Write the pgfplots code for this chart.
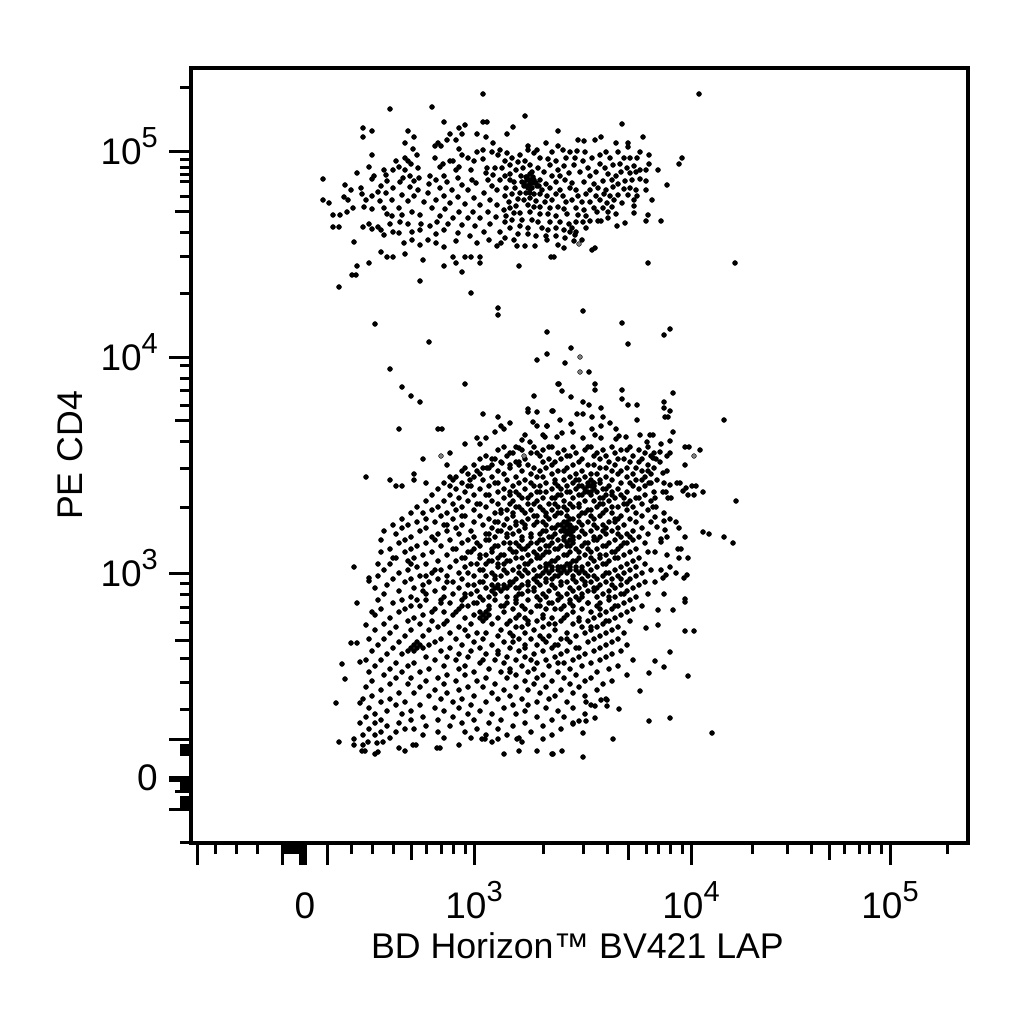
\documentclass[border=0pt]{standalone}
\usepackage{pgfplots}
\pgfplotsset{compat=1.18}
\usepackage{fontspec}
\setmainfont{Liberation Sans}
\newcommand\tp[1]{10\raisebox{17pt}{\fontsize{29}{29}\selectfont #1}}
\begin{document}
\begin{tikzpicture}[x=1pt,y=1pt]
\path[use as bounding box] (0,0) rectangle (1024,1024);
\begin{axis}[
 at={(191pt,181pt)},anchor=south west,scale only axis,width=777pt,height=775pt,
 xmin=191,xmax=968,ymin=68,ymax=843,y dir=reverse,
 axis line style={line width=3.4pt},
 tick align=outside,xtick pos=bottom,ytick pos=left,
 tick style={black,line width=3pt},
 major tick length=22pt,minor tick length=11pt,
 xtick={197,282,300,303,305,327,474,691,890},
 xticklabels={,,,,0,,\tp{3},\tp{4},\tp{5}},
 extra x ticks={411,628,829},extra x tick labels={},
 extra x tick style={major tick length=17pt},
 minor xtick={215,236,257,285,288,291,294,297,351,372,393,426,441,453,465,543,583,607,646,658,670,682,752,787,811,844,859,869,881,947},
 ytick={152,357,573,739,777,780,809},
 yticklabels={\tp{5},\tp{4},\tp{3},,0,,},
 extra y ticks={212,420,640,791},extra y tick labels={},
 extra y tick style={major tick length=16pt},
 minor ytick={88,160,168,175,182,197,233,257,294,365,378,390,405,441,468,507,583,594,607,622,658,682,709,745,748,751,754,783,786,789,797,800,803,806,842},
 tick label style={font=\fontsize{37}{37}\selectfont,inner sep=0pt},
 xticklabel style={anchor=base,yshift=-53pt},
 yticklabel style={anchor=base east,yshift=-13pt,xshift=-11pt},
 xlabel={BD Horizon™ BV421 LAP},ylabel={PE CD4},
 label style={font=\fontsize{35.7}{36}\selectfont,inner sep=0pt},
 xlabel style={at={(axis description cs:0.4974,-0.1484)},anchor=base},
 ylabel style={at={(axis description cs:-0.140,0.5)},anchor=base},
]
% dots (display channels)
\addplot[only marks,mark=*,mark size=2.5pt,mark options={draw=none,fill=black}] coordinates {
(483,94)(699,94)(390,109)(432,107)(735,263)(339,287)(444,122)(465,125)(459,128)(483,122)(487,122)(363,128)(372,131)(363,137)(408,131)(414,137)(450,134)(462,134)(477,134)(486,137)(507,134)(405,143)(447,140)(456,140)(435,146)(438,143)(441,146)(493,143)(459,149)(413,149)(417,155)(372,155)(435,158)(462,155)(477,152)(483,150)(492,152)(500,150)(498,155)(507,153)
(396,161)(405,158)(408,161)(411,164)(450,161)(453,161)(443,164)(440,167)(468,158)(474,161)(483,159)(505,161)(369,167)(393,170)(399,167)(405,170)(418,168)(459,167)(456,170)(471,170)(487,168)(486,173)(495,168)(493,175)(510,165)(357,173)(384,170)(386,175)(374,176)(403,178)(410,176)(414,181)(419,178)(430,176)(444,176)(458,178)(472,180)(488,180)(500,180)(505,176)
(323,179)(372,179)(387,181)(400,182)(410,187)(429,184)(436,180)(447,182)(462,185)(476,183)(492,186)(510,180)(381,186)(345,185)(351,190)(361,188)(378,192)(393,188)(418,190)(440,188)(452,190)(468,190)(484,193)(497,190)(362,194)(372,196)(386,193)(402,195)(414,196)(428,193)(444,196)(458,197)(474,198)(490,200)(505,196)(323,200)(329,203)(344,197)(348,200)(366,200)(380,201)(392,200)(408,201)(424,202)(436,200)(450,203)(465,204)(480,205)(497,205)
(333,215)(340,215)(347,212)(353,208)(364,207)(372,209)(384,208)(399,208)(412,212)(432,208)(445,209)(459,212)(473,212)(488,212)(504,210)(387,214)(392,216)(402,215)(420,215)(440,216)(453,218)(468,218)(480,218)(496,217)(333,227)(339,227)(363,227)(369,224)(372,229)(378,227)(381,230)(390,224)(400,222)(408,224)(421,224)(430,226)(437,222)(448,224)(462,225)(475,226)(490,224)(505,222)(384,235)(393,232)(399,233)(412,232)(420,230)(436,234)(444,230)(458,233)(470,236)(484,232)(500,232)(354,242)(381,252)(387,257)(393,257)(405,254)(420,245)(423,260)(444,247)(444,266)(453,257)(456,263)(465,257)(471,257)(480,257)(480,263)(462,272)(420,281)(471,293)(352,275)(356,275)(357,266)(369,263)(497,246)(505,238)(489,240)(477,243)(412,240)(404,243)(428,240)(436,243)(456,241)
(525,116)(513,127)(558,131)(622,124)(578,140)(595,140)(601,137)(584,141)(546,143)(558,146)(616,143)(628,143)(628,147)(643,137)(528,146)(528,150)(537,150)(552,152)(534,153)(563,150)(570,152)(577,151)(585,152)(640,152)(649,155)(682,158)(679,164)(630,158)(637,158)(649,164)(658,170)(667,185)(640,170)(646,170)(630,173)(640,179)(646,181)(652,200)(646,190)(634,206)(634,200)(634,213)(648,215)(646,221)(661,221)(617,226)(625,223)(598,221)(601,221)(590,221)(608,212)(597,212)(592,250)(595,248)(648,263)(519,266)(551,257)(554,257)(558,245)(564,248)(547,240)(535,246)(525,246)(517,246)(501,243)(575,235)(570,232)(576,232)(569,224)
(512,158)(520,155)(518,162)(525,161)(540,158)(548,159)(556,161)(566,158)(575,158)(583,161)(592,158)(600,155)(606,152)(610,158)(618,152)(624,158)(502,168)(516,170)(523,168)(530,165)(538,168)(550,165)(558,170)(564,166)(574,165)(588,168)(600,164)(605,168)(613,165)(620,164)(627,168)(634,166)(510,174)(521,176)(526,177)(532,172)(544,172)(552,176)(560,176)(569,173)(580,172)(590,176)(596,172)(608,174)(616,176)(621,172)(636,172)(514,182)(522,182)(527,180)(530,184)(534,180)(540,180)(546,184)(556,182)(565,180)(572,183)(584,182)(594,184)(603,181)(612,180)(618,184)(625,181)(632,180)(506,188)(515,188)(524,186)(528,188)(532,188)(537,186)(542,190)(550,188)(560,190)(570,188)(576,190)(590,190)(598,188)(606,190)(613,187)(624,189)(630,188)(636,190)
(512,194)(520,193)(526,193)(530,193)(534,194)(540,194)(547,196)(556,194)(563,196)(578,196)(586,194)(596,196)(604,194)(610,196)(618,195)(628,195)(637,196)(509,202)(518,199)(524,200)(530,198)(536,201)(545,202)(552,200)(566,202)(572,200)(582,202)(590,202)(600,200)(607,203)(614,200)(622,203)(510,208)(516,206)(528,205)(534,207)(540,207)(550,208)(558,207)(564,209)(576,208)(584,210)(594,208)(603,208)(612,207)(506,216)(514,213)(520,213)(530,212)(540,214)(548,214)(556,216)(567,214)(578,215)(586,216)(608,218)(616,214)(512,220)(522,220)(532,220)(538,222)(550,222)(560,222)(576,222)(583,222)(510,228)(520,226)(528,228)(542,228)(548,230)(556,228)(564,230)(572,228)(586,228)(518,234)(528,234)(536,236)(546,236)(556,236)(565,238)(574,241)(582,240)(514,240)
(530,180)(533,183)(527,186)(530,189)(527,177)(533,177)(536,183)(524,183)(530,174)(539,186)
(498,308)(498,315)(375,324)(429,342)(547,332)(547,354)(537,360)(390,369)(558,384)(402,387)(411,396)(420,402)(465,384)(534,396)(528,409)(528,412)(537,412)(553,411)(483,414)(498,417)(533,422)(510,423)(501,426)(504,429)(495,432)(537,426)(547,426)(543,435)(399,429)(438,429)(442,429)(477,438)(486,438)(465,444)(480,444)(525,435)(530,442)(522,440)(519,448)(450,453)(423,459)(447,465)(465,468)(477,471)(492,459)(510,453)(502,463)(510,465)(519,465)(366,477)(390,480)(396,486)(402,486)(414,474)(414,480)(426,483)(450,486)(456,477)(453,480)(470,480)(468,486)(487,468)
(583,311)(622,323)(670,329)(664,335)(628,344)(571,348)(565,363)(589,372)(559,384)(595,384)(595,390)(562,391)(571,397)(622,390)(622,399)(673,393)(628,405)(637,405)(583,402)(589,405)(601,408)(552,411)(577,414)(583,414)(664,402)(664,408)(670,411)(665,417)(668,417)(637,420)(724,420)(560,420)(603,417)(592,417)(571,424)(610,423)(547,426)(592,429)(601,426)(616,429)(673,432)(650,435)(653,435)(640,435)(573,432)(545,437)(562,433)(557,437)(583,438)(595,435)(601,438)(616,439)(619,436)(626,437)(670,441)(647,442)(661,444)(685,447)(689,447)(700,450)(670,453)(660,452)(653,458)(656,459)(667,456)(685,465)(648,471)(663,473)(667,471)(649,483)(664,483)(670,485)(677,483)(680,483)(696,486)(692,486)(703,492)(683,491)(686,488)(688,495)(694,495)(663,492)(666,492)(668,498)(671,498)(736,501)(655,498)(653,507)(656,507)(664,513)(655,517)(664,521)(670,519)(676,522)(679,528)(703,532)(709,534)(724,537)(685,537)(667,537)(657,527)(665,530)(733,543)(661,542)(661,539)(678,549)(681,549)(655,552)(667,555)(679,558)(688,558)(670,567)(676,573)(661,570)(663,578)(666,575)(655,582)(684,578)(687,575)(664,594)(685,599)(685,602)(658,610)(673,610)(658,625)(685,631)(694,631)(646,628)(670,652)(655,661)(664,667)(688,676)(649,673)(640,691)(649,721)(670,718)(712,733)(613,739)(583,733)(583,757)(553,754)(562,751)(595,718)(586,721)(579,721)(573,724)(619,709)(607,700)(601,700)(607,706)(595,706)(586,702)
(354,567)(381,552)(378,564)(393,558)(369,581)(369,578)(357,603)(372,612)(366,625)(351,643)(357,643)(342,664)(345,679)(336,703)(339,742)(354,739)(354,745)(360,703)(360,662)(375,754)(378,752)(504,754)(519,751)(537,751)(552,754)(437,748)(440,748)(413,745)(416,745)(405,751)(399,748)(362,751)(365,751)(363,745)(368,742)(383,742)(377,743)(459,745)(482,739)(485,739)(492,742)(498,739)(517,739)(522,742)(543,739)
(504,447)(516,447)(534,447)(549,447)(552,447)(573,447)(588,447)(591,447)(612,447)(630,447)(648,447)
(498,450)(522,450)(543,450)(564,450)(585,450)(603,450)(621,450)(627,450)(639,450)
(513,453)(531,453)(537,453)(558,453)(576,453)(597,453)(615,453)(645,453)(654,453)
(486,456)(507,456)(540,456)(567,456)(570,456)(594,456)(606,456)(633,456)(651,456)
(480,459)(495,459)(525,459)(549,459)(561,459)(582,459)(600,459)(618,459)(624,459)(642,459)
(501,462)(516,462)(519,462)(543,462)(555,462)(579,462)(609,462)(630,462)(639,462)(660,462)
(474,465)(492,465)(528,465)(552,465)(573,465)(588,465)(594,465)(615,465)(648,465)
(483,468)(489,468)(510,468)(534,468)(546,468)(567,468)(600,468)(606,468)(627,468)(636,468)(654,468)
(462,471)(498,471)(522,471)(540,471)(558,471)(564,471)(582,471)(612,471)(621,471)(642,471)
(468,474)(480,474)(504,474)(531,474)(552,474)(576,474)(591,474)(597,474)(618,474)(633,474)(651,474)
(450,477)(474,477)(492,477)(516,477)(537,477)(543,477)(570,477)(585,477)(606,477)(627,477)(645,477)
(483,480)(507,480)(525,480)(555,480)(564,480)(579,480)(600,480)(612,480)(636,480)(642,480)(657,480)
(444,483)(462,483)(495,483)(498,483)(519,483)(546,483)(573,483)(588,483)(594,483)(621,483)(630,483)(651,483)
(471,486)(489,486)(513,486)(534,486)(558,486)(567,486)(582,486)(591,486)(609,486)(633,486)(645,486)
(438,489)(456,489)(480,489)(504,489)(525,489)(552,489)(576,489)(585,489)(594,489)(603,489)(618,489)(639,489)
(465,492)(498,492)(516,492)(540,492)(546,492)(570,492)(588,492)(597,492)(612,492)(627,492)(654,492)
(432,495)(450,495)(474,495)(486,495)(510,495)(531,495)(561,495)(579,495)(591,495)(606,495)(621,495)(645,495)
(459,498)(504,498)(522,498)(543,498)(555,498)(573,498)(600,498)(615,498)(636,498)(639,498)
(426,501)(444,501)(468,501)(492,501)(513,501)(537,501)(564,501)(585,501)(594,501)(609,501)(630,501)(651,501)
(453,504)(480,504)(498,504)(528,504)(549,504)(570,504)(579,504)(603,504)(624,504)(642,504)
(417,507)(438,507)(462,507)(486,507)(519,507)(540,507)(558,507)(573,507)(597,507)(618,507)(633,507)
(432,510)(456,510)(474,510)(507,510)(531,510)(552,510)(567,510)(591,510)(606,510)(627,510)(648,510)
(411,513)(423,513)(447,513)(495,513)(501,513)(525,513)(546,513)(561,513)(585,513)(612,513)(636,513)
(441,516)(465,516)(480,516)(513,516)(537,516)(555,516)(579,516)(600,516)(621,516)(642,516)
(402,519)(426,519)(453,519)(489,519)(507,519)(528,519)(549,519)(570,519)(573,519)(594,519)(615,519)(630,519)
(417,522)(435,522)(474,522)(498,522)(522,522)(543,522)(564,522)(567,522)(588,522)(609,522)(636,522)(651,522)
(393,525)(408,525)(444,525)(462,525)(483,525)(516,525)(534,525)(558,525)(570,525)(582,525)(603,525)(624,525)
(402,528)(426,528)(456,528)(492,528)(510,528)(525,528)(552,528)(564,528)(576,528)(597,528)(618,528)(642,528)
(384,531)(420,531)(447,531)(471,531)(501,531)(519,531)(546,531)(561,531)(570,531)(591,531)(612,531)(633,531)
(396,534)(438,534)(459,534)(486,534)(513,534)(540,534)(555,534)(567,534)(585,534)(606,534)(627,534)(648,534)
(411,537)(432,537)(474,537)(495,537)(507,537)(531,537)(549,537)(564,537)(579,537)(600,537)(621,537)(639,537)
(381,540)(405,540)(450,540)(468,540)(489,540)(522,540)(543,540)(558,540)(573,540)(594,540)(615,540)(633,540)
(399,543)(426,543)(462,543)(504,543)(516,543)(537,543)(552,543)(567,543)(588,543)(609,543)(627,543)(645,543)
(417,546)(441,546)(480,546)(498,546)(528,546)(546,546)(561,546)(582,546)(603,546)(621,546)
(390,549)(411,549)(456,549)(474,549)(510,549)(522,549)(540,549)(555,549)(576,549)(597,549)(618,549)(636,549)
(405,552)(432,552)(468,552)(492,552)(516,552)(534,552)(549,552)(570,552)(591,552)(612,552)(630,552)(648,552)
(423,555)(447,555)(486,555)(504,555)(528,555)(543,555)(564,555)(585,555)(606,555)(624,555)
(396,558)(414,558)(462,558)(480,558)(498,558)(522,558)(537,558)(558,558)(579,558)(600,558)(615,558)(639,558)
(408,561)(438,561)(456,561)(492,561)(510,561)(531,561)(552,561)(573,561)(594,561)(609,561)(633,561)
(390,564)(426,564)(471,564)(486,564)(504,564)(525,564)(546,564)(567,564)(588,564)(603,564)(627,564)(645,564)
(417,567)(450,567)(465,567)(498,567)(519,567)(540,567)(561,567)(582,567)(597,567)(621,567)(636,567)
(384,570)(408,570)(441,570)(480,570)(513,570)(534,570)(546,570)(552,570)(558,570)(564,570)(570,570)(576,570)(591,570)(615,570)(630,570)(651,570)
(399,573)(432,573)(459,573)(492,573)(507,573)(528,573)(543,573)(549,573)(561,573)(567,573)(579,573)(585,573)(609,573)(624,573)(642,573)
(378,576)(420,576)(447,576)(474,576)(486,576)(501,576)(522,576)(540,576)(555,576)(573,576)(588,576)(603,576)(618,576)(636,576)
(393,579)(411,579)(438,579)(462,579)(495,579)(516,579)(534,579)(552,579)(582,579)(597,579)(612,579)(630,579)
(405,582)(429,582)(453,582)(480,582)(510,582)(528,582)(546,582)(567,582)(576,582)(591,582)(606,582)(627,582)(645,582)
(387,585)(423,585)(468,585)(492,585)(498,585)(504,585)(522,585)(540,585)(561,585)(585,585)(600,585)(621,585)(639,585)
(375,588)(414,588)(444,588)(459,588)(486,588)(495,588)(507,588)(516,588)(534,588)(555,588)(579,588)(594,588)(615,588)(633,588)
(399,591)(435,591)(477,591)(501,591)(528,591)(549,591)(573,591)(588,591)(609,591)(627,591)
(384,594)(426,594)(453,594)(471,594)(495,594)(522,594)(543,594)(567,594)(582,594)(603,594)(621,594)(648,594)
(411,597)(444,597)(465,597)(489,597)(516,597)(537,597)(561,597)(576,597)(597,597)(615,597)(636,597)
(378,600)(402,600)(426,600)(462,600)(483,600)(495,600)(528,600)(540,600)(558,600)(579,600)(609,600)(630,600)
(393,603)(441,603)(450,603)(474,603)(507,603)(516,603)(549,603)(570,603)(588,603)(600,603)(624,603)
(411,606)(420,606)(468,606)(501,606)(522,606)(537,606)(564,606)(597,606)(618,606)(642,606)
(381,609)(405,609)(435,609)(459,609)(489,609)(513,609)(546,609)(555,609)(582,609)(612,609)(633,609)
(399,612)(444,612)(480,612)(486,612)(504,612)(531,612)(573,612)(591,612)(606,612)(627,612)
(375,615)(423,615)(453,615)(474,615)(483,615)(489,615)(519,615)(543,615)(567,615)(600,615)(621,615)
(390,618)(414,618)(465,618)(480,618)(486,618)(498,618)(525,618)(552,618)(579,618)(594,618)(615,618)
(408,621)(432,621)(447,621)(483,621)(510,621)(537,621)(561,621)(588,621)(609,621)(630,621)
(384,624)(420,624)(471,624)(492,624)(507,624)(528,624)(549,624)(573,624)(603,624)
(396,627)(438,627)(459,627)(516,627)(522,627)(543,627)(582,627)(597,627)(618,627)
(375,630)(411,630)(429,630)(465,630)(501,630)(534,630)(555,630)(591,630)(612,630)
(390,633)(450,633)(477,633)(486,633)(510,633)(525,633)(567,633)(585,633)(606,633)(624,633)
(405,636)(423,636)(468,636)(498,636)(540,636)(549,636)(576,636)(600,636)
(369,639)(384,639)(441,639)(456,639)(483,639)(519,639)(531,639)(561,639)(594,639)(618,639)
(399,642)(417,642)(435,642)(474,642)(504,642)(513,642)(546,642)(570,642)(588,642)(612,642)
(378,645)(414,645)(420,645)(429,645)(462,645)(492,645)(525,645)(537,645)(558,645)(606,645)(627,645)
(393,648)(411,648)(417,648)(423,648)(450,648)(480,648)(510,648)(552,648)(576,648)(600,648)
(372,651)(408,651)(414,651)(441,651)(471,651)(498,651)(519,651)(543,651)(567,651)(594,651)(621,651)
(387,654)(402,654)(459,654)(486,654)(534,654)(561,654)(585,654)(612,654)
(426,657)(447,657)(468,657)(507,657)(525,657)(555,657)(579,657)(606,657)
(366,660)(381,660)(435,660)(456,660)(495,660)(516,660)(546,660)(573,660)(600,660)(633,660)
(396,663)(414,663)(480,663)(504,663)(537,663)(564,663)(591,663)
(375,666)(408,666)(444,666)(465,666)(522,666)(549,666)(582,666)(618,666)
(390,669)(429,669)(459,669)(489,669)(510,669)(534,669)(570,669)(609,669)
(369,672)(402,672)(420,672)(474,672)(501,672)(528,672)(558,672)(597,672)
(384,675)(447,675)(465,675)(516,675)(543,675)(576,675)(627,675)
(396,678)(411,678)(438,678)(486,678)(507,678)(564,678)(591,678)
(372,681)(426,681)(456,681)(477,681)(525,681)(552,681)(585,681)(612,681)
(390,684)(408,684)(444,684)(495,684)(534,684)(570,684)(603,684)
(366,687)(420,687)(468,687)(483,687)(516,687)(546,687)(579,687)
(381,690)(435,690)(459,690)(504,690)(528,690)(561,690)(597,690)
(399,693)(414,693)(447,693)(492,693)(540,693)(573,693)
(372,696)(429,696)(474,696)(510,696)(555,696)(585,696)
(363,699)(390,699)(441,699)(462,699)(498,699)(522,699)(549,699)(606,699)
(381,702)(405,702)(453,702)(486,702)(537,702)(567,702)
(396,705)(420,705)(471,705)(513,705)(528,705)(591,705)
(369,708)(435,708)(459,708)(504,708)(546,708)(573,708)
(387,711)(411,711)(444,711)(480,711)(525,711)(558,711)
(375,714)(402,714)(468,714)(492,714)(516,714)(585,714)
(366,717)(423,717)(453,717)(537,717)(564,717)
(381,720)(411,720)(438,720)(474,720)(501,720)(552,720)
(360,723)(375,723)(399,723)(462,723)(489,723)(525,723)(573,723)
(387,726)(426,726)(450,726)(513,726)(543,726)
(369,729)(405,729)(414,729)(477,729)(498,729)(561,729)
(381,732)(396,732)(438,732)(465,732)(531,732)
(363,735)(375,735)(423,735)(486,735)(507,735)(552,735)
(390,738)(444,738)(471,738)(519,738)
(531,483)(540,486)(555,483)(561,489)(576,480)(579,486)(600,483)(606,489)
(510,492)(519,495)(528,498)(537,492)(552,498)(558,495)(567,492)(582,495)(603,498)(612,495)(624,498)
(510,504)(516,507)(534,504)(543,510)(555,504)(564,507)(579,507)(588,510)(600,504)(612,507)(627,504)
(501,510)(513,513)(522,510)(534,516)(546,516)(558,513)(567,516)(582,513)(591,516)(603,513)(618,519)
(495,522)(504,525)(516,522)(525,525)(537,522)(546,525)(555,528)(561,525)(573,528)(579,522)(594,525)(606,528)(615,522)
(489,534)(498,531)(507,534)(522,537)(531,534)(543,531)(552,537)(570,534)(573,537)(582,531)(594,537)(603,531)(618,534)(630,537)
(477,543)(486,540)(495,546)(510,543)(519,546)(531,543)(540,540)(549,546)(564,540)(570,546)(585,543)(597,540)(606,546)(624,543)
(471,552)(480,555)(492,549)(501,555)(513,552)(525,549)(537,555)(546,552)(558,549)(567,555)(579,552)(588,549)(600,555)(615,552)
(465,558)(477,564)(489,561)(498,564)(507,561)(516,558)(528,564)(540,558)(549,564)(555,561)(570,564)(576,561)(591,558)(606,564)(618,558)
(468,573)(483,570)(495,576)(504,570)(519,573)(525,570)(537,576)(546,579)(558,576)(573,579)(582,570)(594,576)(606,573)(621,579)
(474,585)(483,582)(513,582)(519,588)(528,585)(537,582)(552,585)(561,582)(570,588)(585,582)(597,588)(612,585)
(465,594)(480,597)(492,591)(507,597)(519,594)(534,591)(546,597)(558,594)(570,600)(582,597)(594,591)(609,597)(624,594)
(462,606)(477,603)(489,606)(504,606)(516,600)(525,609)(540,606)(552,603)(561,609)(573,606)(588,603)(600,609)(615,606)
(516,618)(528,621)(543,618)(555,624)(564,618)(579,621)(591,627)(606,621)
(435,570)(447,582)(423,591)(441,600)(456,612)(444,624)(432,612)(417,600)(426,576)(411,564)(453,549)(435,540)(447,525)(462,516)(477,504)(489,495)
(543,639)(555,645)(567,639)(579,648)(525,648)(513,636)(498,654)(483,660)(531,660)(558,663)(510,672)(537,678)
(546,567)(552,567)(558,567)(564,567)(570,567)(576,567)
(588,486)(594,486)(585,492)(591,492)(594,483)(591,480)
(567,525)(570,528)(573,531)(567,531)(570,534)(564,531)(570,540)(573,543)(567,546)
(498,588)(504,588)(510,585)
};
\addplot[only marks,mark=*,mark size=2.4pt,mark options={draw=none,fill=gray}] coordinates {(580,357)(580,372)(441,456)(694,456)(579,244)(524,456)};
\end{axis}
\end{tikzpicture}
\end{document}
